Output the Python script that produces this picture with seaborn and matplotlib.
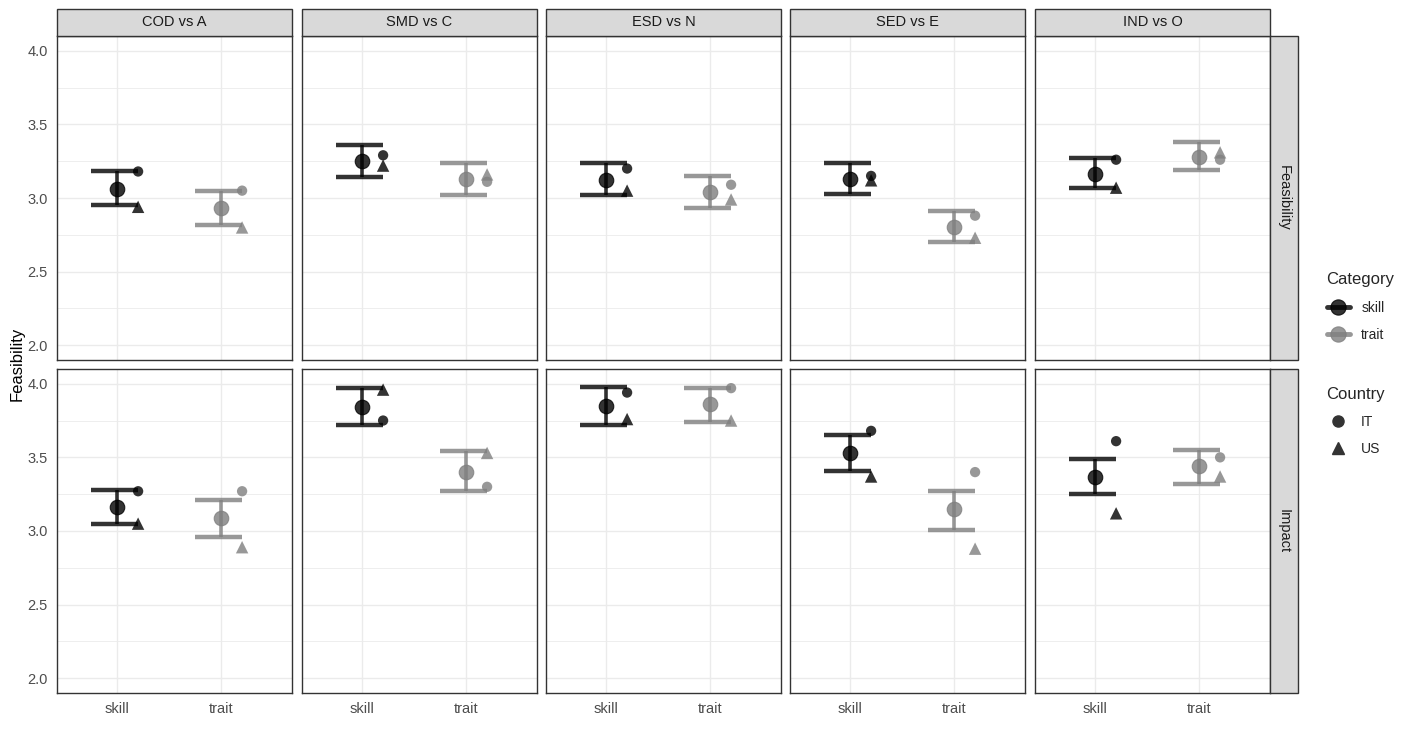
import numpy as np
import pandas as pd
import matplotlib
matplotlib.use("Agg")
import matplotlib.pyplot as plt
from matplotlib.lines import Line2D
from matplotlib.patches import Rectangle
import seaborn as sns

sns.set_style("white")
plt.rcParams['font.family'] = ['Liberation Sans', 'DejaVu Sans']

comparisons = ["COD vs A", "SMD vs C", "ESD vs N", "SED vs E", "IND vs O"]
measures = ["Feasibility", "Impact"]
categories = ["skill", "trait"]
countries = ["IT", "US"]

# Feasibility (top row)
feas_mean_skill = [3.06, 3.25, 3.12, 3.13, 3.16]
feas_lo_skill = [2.95, 3.14, 3.02, 3.03, 3.07]
feas_hi_skill = [3.18, 3.36, 3.24, 3.24, 3.27]
feas_mean_trait = [2.93, 3.13, 3.04, 2.80, 3.28]
feas_lo_trait = [2.82, 3.02, 2.93, 2.70, 3.19]
feas_hi_trait = [3.05, 3.24, 3.15, 2.91, 3.38]
feas_it_skill = [3.18, 3.29, 3.20, 3.15, 3.26]
feas_us_skill = [2.94, 3.22, 3.05, 3.12, 3.07]
feas_it_trait = [3.05, 3.11, 3.09, 2.88, 3.26]
feas_us_trait = [2.80, 3.16, 2.99, 2.73, 3.31]

# Impact (bottom row)
imp_mean_skill = [3.16, 3.84, 3.85, 3.53, 3.37]
imp_lo_skill = [3.05, 3.72, 3.72, 3.41, 3.25]
imp_hi_skill = [3.28, 3.97, 3.98, 3.65, 3.49]
imp_mean_trait = [3.09, 3.40, 3.86, 3.15, 3.44]
imp_lo_trait = [2.96, 3.27, 3.74, 3.01, 3.32]
imp_hi_trait = [3.21, 3.54, 3.97, 3.27, 3.55]
imp_it_skill = [3.27, 3.75, 3.94, 3.68, 3.61]
imp_us_skill = [3.05, 3.96, 3.76, 3.37, 3.12]
imp_it_trait = [3.27, 3.30, 3.97, 3.40, 3.50]
imp_us_trait = [2.89, 3.53, 3.75, 2.88, 3.37]

summary = {
    ("Feasibility", "skill"): (feas_mean_skill, feas_lo_skill, feas_hi_skill),
    ("Feasibility", "trait"): (feas_mean_trait, feas_lo_trait, feas_hi_trait),
    ("Impact", "skill"): (imp_mean_skill, imp_lo_skill, imp_hi_skill),
    ("Impact", "trait"): (imp_mean_trait, imp_lo_trait, imp_hi_trait),
}
by_country = {
    ("Feasibility", "skill"): (feas_it_skill, feas_us_skill),
    ("Feasibility", "trait"): (feas_it_trait, feas_us_trait),
    ("Impact", "skill"): (imp_it_skill, imp_us_skill),
    ("Impact", "trait"): (imp_it_trait, imp_us_trait),
}

rows, pts = [], []
for (m, c), (mu, lo, hi) in summary.items():
    for i, comp in enumerate(comparisons):
        rows.append(dict(measure=m, category=c, comparison=comp,
                         mean=mu[i], lo=lo[i], hi=hi[i]))
for (m, c), (it, us) in by_country.items():
    for i, comp in enumerate(comparisons):
        pts.append(dict(measure=m, category=c, comparison=comp, country="IT", value=it[i]))
        pts.append(dict(measure=m, category=c, comparison=comp, country="US", value=us[i]))
df = pd.DataFrame(rows)
dfp = pd.DataFrame(pts)
xpos = {c: i + 1 for i, c in enumerate(categories)}
df["x"] = df["category"].map(xpos)
dfp["x"] = dfp["category"].map(xpos) + 0.2

palette = {"skill": "black", "trait": "#7f7f7f"}
W, H = 1409, 731
fig = plt.figure(figsize=(W / 100, H / 100), dpi=100)

col_left = [57, 302, 546, 790, 1035]
pw = 235
row_top = [36, 369]
ph = 324

def fr(x, y, w, h):
    return [x / W, 1 - (y + h) / H, w / W, h / H]

for r, m in enumerate(measures):
    for k, comp in enumerate(comparisons):
        ax = fig.add_axes(fr(col_left[k], row_top[r], pw, ph))
        sub = df[(df.measure == m) & (df.comparison == comp)]
        subp = dfp[(dfp.measure == m) & (dfp.comparison == comp)]
        ax.set_yticks([2.25, 2.75, 3.25, 3.75], minor=True)
        ax.set_yticks([2.0, 2.5, 3.0, 3.5, 4.0])
        ax.set_xticks([1, 2])
        ax.grid(True, which="major", color="#ebebeb", lw=1.0)
        ax.grid(True, which="minor", axis="y", color="#ebebeb", lw=0.6)
        ax.set_axisbelow(True)
        for _, rw in sub.iterrows():
            col = palette[rw.category]
            ax.vlines(rw.x, rw.lo, rw.hi, color=col, alpha=0.8, lw=2.6, zorder=2)
            ax.hlines([rw.lo, rw.hi], rw.x - 0.25, rw.x + 0.2, color=col,
                      alpha=0.8, lw=3.2, zorder=2)
        for cat in categories:
            sns.scatterplot(data=sub[sub.category == cat], x="x", y="mean",
                            color=palette[cat], s=110, alpha=0.8,
                            edgecolor=palette[cat], linewidth=0.8,
                            legend=False, ax=ax, zorder=3)
        for cty, mk, sz in [("IT", "o", 55), ("US", "^", 80)]:
            sns.scatterplot(data=subp[subp.country == cty], x="x", y="value",
                            hue="category", palette=palette, marker=mk,
                            s=sz, alpha=0.8, linewidth=0, legend=False, ax=ax, zorder=3)
        ax.set_xlim(0.42, 2.68)
        ax.set_ylim(1.9, 4.1)
        ax.set_xlabel("")
        ax.set_ylabel("")
        for s in ax.spines.values():
            s.set_color("#333333")
            s.set_linewidth(1.0)
        ax.tick_params(axis="both", colors="#333333", length=3, width=0.8,
                       labelcolor="#4d4d4d", labelsize=10.5, which="major")
        ax.tick_params(which="minor", length=0)
        if k == 0:
            ax.set_yticklabels(["2.0", "2.5", "3.0", "3.5", "4.0"])
        else:
            ax.tick_params(axis="y", left=False, labelleft=False)
        if r == 1:
            ax.set_xticklabels(categories)
        else:
            ax.tick_params(axis="x", bottom=False, labelbottom=False)
        if r == 0:
            fig.patches.append(Rectangle((col_left[k] / W, 1 - 36 / H), pw / W, 27 / H,
                                         transform=fig.transFigure, facecolor="#d9d9d9",
                                         edgecolor="#333333", lw=1.0))
            fig.text((col_left[k] + pw / 2) / W, 1 - 22.5 / H, comp, ha="center",
                     va="center", fontsize=10.5, color="#1a1a1a")
    fig.patches.append(Rectangle((1270 / W, 1 - (row_top[r] + ph) / H), 28 / W, ph / H,
                                 transform=fig.transFigure, facecolor="#d9d9d9",
                                 edgecolor="#333333", lw=1.0))
    fig.text(1284 / W, 1 - (row_top[r] + ph / 2) / H, m, rotation=-90, ha="center",
             va="center", fontsize=10.5, color="#1a1a1a")

fig.text(17 / W, 1 - 364 / H, "Feasibility", rotation=90, ha="center", va="center",
         fontsize=12, color="black")

cat_handles = [Line2D([0], [0], color=palette[c], alpha=0.8, lw=3.5, marker="o",
                      markersize=11, markeredgecolor=palette[c], markeredgewidth=0.8)
               for c in categories]
leg1 = fig.legend(cat_handles, categories, title="Category", loc="upper left",
                  bbox_to_anchor=(1314 / W, 1 - 260 / H), frameon=False,
                  fontsize=10, title_fontsize=12, handlelength=1.7,
                  labelspacing=0.95, alignment="left")
cty_handles = [Line2D([0], [0], color="#333333", lw=0, marker=mk, markersize=ms)
               for mk, ms in [("o", 8), ("^", 9)]]
leg2 = fig.legend(cty_handles, countries, title="Country", loc="upper left",
                  bbox_to_anchor=(1314 / W, 1 - 374 / H), frameon=False,
                  fontsize=10, title_fontsize=12, handlelength=1.7,
                  labelspacing=0.95, alignment="left")

plt.savefig("out.png", dpi=100)
plt.close()
